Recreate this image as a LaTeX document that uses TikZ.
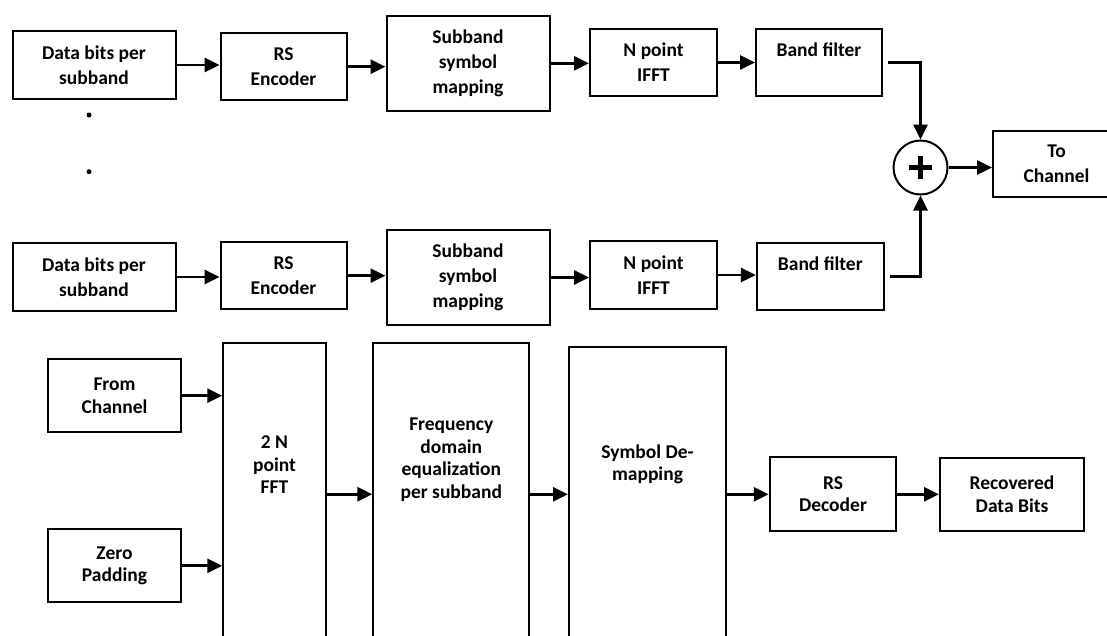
\documentclass[tikz,border=0pt]{standalone}
\usepackage{fontspec}
\setmainfont{Carlito}
\usetikzlibrary{arrows.meta}

\begin{document}
\begin{tikzpicture}[x=1pt,y=-1pt,
  blk/.style={draw, line width=2pt, align=center, inner sep=0pt,
    font=\bfseries\fontsize{19.5}{25}\selectfont},
  lbl/.style={align=center, inner sep=0pt,
    font=\bfseries\fontsize{19.5}{22.5}\selectfont},
  arr/.style={line width=2.8pt, -{Triangle[length=15pt,width=14pt]}},
  plus/.style={line width=4.8pt}]
  \useasboundingbox (0,0) rectangle (1107,635);
  \clip (0,0) rectangle (1107,635);
  % --- transmitter, first subband
  \node[blk, minimum width=163pt, minimum height=68pt] (d1) at (94,65) {Data bits per\\subband};
  \node[blk, minimum width=126pt, minimum height=67pt] (e1) at (283.5,66.7) {RS\\Encoder};
  \node[blk, minimum width=163pt, minimum height=95pt] (m1) at (468,63.3) {Subband\\symbol\\mapping};
  \node[blk, minimum width=127pt, minimum height=67pt] (i1) at (653.5,62.5) {N point\\IFFT};
  \node[blk, minimum width=126pt, minimum height=67pt] (f1) at (819,62.5) {Band filter\\~};
  % --- the dots for the subbands in between
  \fill (89,115) circle (2.5pt);
  \fill (89,171.7) circle (2.5pt);
  % --- transmitter, last subband
  \node[blk, minimum width=163pt, minimum height=68pt] (d2) at (94,277) {Data bits per\\subband};
  \node[blk, minimum width=126pt, minimum height=67pt] (e2) at (283.5,275.7) {RS\\Encoder};
  \node[blk, minimum width=163pt, minimum height=95pt] (m2) at (468,277.5) {Subband\\symbol\\mapping};
  \node[blk, minimum width=127pt, minimum height=68pt] (i2) at (653.5,275) {N point\\IFFT};
  \node[blk, minimum width=127pt, minimum height=67pt] (f2) at (820.3,276.5) {Band filter\\~};
  % --- adder and output
  \node[draw, circle, line width=2pt, minimum size=54pt, inner sep=0pt] (sum) at (920.5,167.5) {};
  \draw[plus] ([xshift=-11.5pt]sum.center) -- ([xshift=11.5pt]sum.center);
  \draw[plus] ([yshift=-11.5pt]sum.center) -- ([yshift=11.5pt]sum.center);
  \node[blk, minimum width=127pt, minimum height=66.6pt] (out) at (1056.5,164) {To\\Channel};
  \foreach \r in {1,2}{
    \draw[arr] (d\r.east) -- (d\r.east -| e\r.west);
    \draw[arr] (e\r.east) -- (e\r.east -| m\r.west);
    \draw[arr] (m\r.east) -- (m\r.east -| i\r.west);
    \draw[arr] (i\r.east) -- (i\r.east -| f\r.west);
  }
  \draw[arr] ([xshift=5pt]f1.east) -| (sum.north);
  \draw[arr] ([xshift=5pt]f2.east) -| (sum.south);
  \draw[arr] (sum.east) -- (sum.east -| out.west);
  % --- receiver: the tall blocks run on past the lower edge
  \node[blk, lbl, minimum width=132.5pt, minimum height=73pt] (fc) at (114.5,395.7) {From\\Channel};
  \node[blk, lbl, minimum width=132.5pt, minimum height=73pt] (zp) at (114.5,565.8) {Zero\\Padding};
  \node[blk, minimum width=102.5pt, minimum height=320pt] (fft) at (274.5,502.7) {};
  \node[blk, minimum width=156pt, minimum height=320pt] (eq) at (451.3,502.7) {};
  \node[blk, minimum width=157pt, minimum height=320pt] (dm) at (647.5,507.3) {};
  \node[lbl] (fftt) at (274.5,465) {2 N\\point\\FFT};
  \node[lbl] (eqt) at (451.3,459.5) {Frequency\\domain\\equalization\\per subband};
  \node[lbl] (dmt) at (647.5,464.5) {Symbol De-\\mapping};
  \node[blk, lbl, minimum width=126.5pt, minimum height=74pt] (dec) at (833,494.3) {RS\\Decoder};
  \node[blk, lbl, minimum width=144pt, minimum height=73pt] (rec) at (1012,494) {Recovered\\Data Bits};
  \draw[arr] (fc.east) -- (fc.east -| fft.west);
  \draw[arr] (zp.east) -- (zp.east -| fft.west);
  \draw[arr] (fft.east |- dec.west) -- (eq.west |- dec.west);
  \draw[arr] (eq.east |- dec.west) -- (dm.west |- dec.west);
  \draw[arr] (dm.east |- dec.west) -- (dec.west);
  \draw[arr] (dec.east) -- (dec.east -| rec.west);
\end{tikzpicture}
\end{document}
